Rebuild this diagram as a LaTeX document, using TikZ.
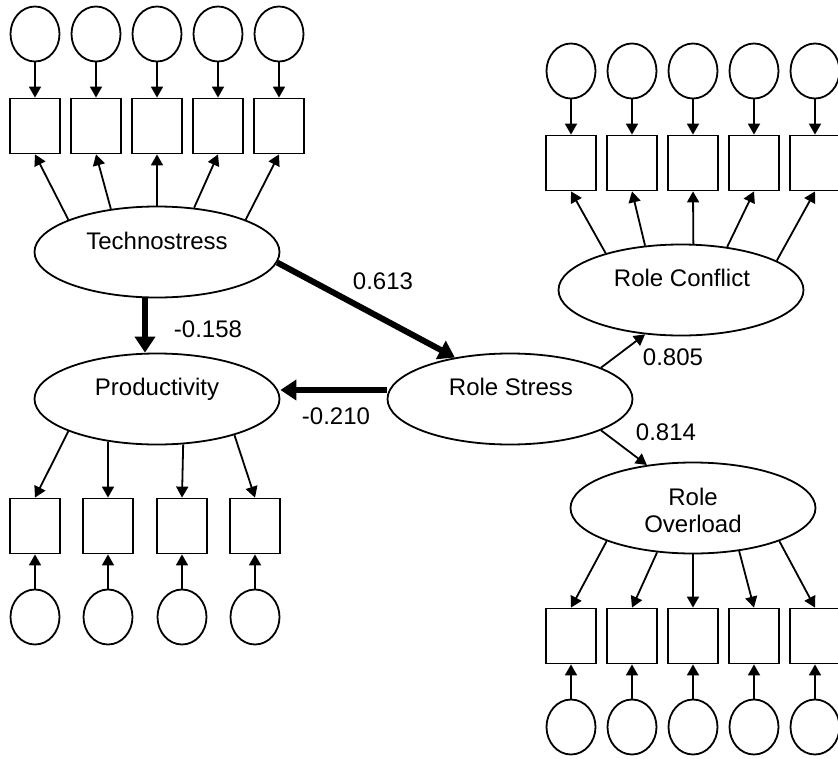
\documentclass[tikz,border=0pt]{standalone}
\usepackage{fontspec}
\setmainfont{Liberation Sans}
\usetikzlibrary{shapes.geometric,arrows.meta,calc}
\begin{document}
\begin{tikzpicture}[x=1pt,y=-1pt,
  every node/.style={font=\fontsize{24}{27}\selectfont},
  latent/.style={draw,ellipse,line width=1.8pt,minimum width=245pt,minimum height=91pt,inner sep=0pt},
  errterm/.style={draw,ellipse,line width=1.8pt,minimum width=49pt,minimum height=55pt,inner sep=0pt},
  indicator/.style={draw,rectangle,line width=1.8pt,minimum width=50pt,minimum height=55pt,inner sep=0pt},
  load/.style={line width=1.8pt,-{Triangle[length=11pt,width=12pt]}},
  effect/.style={line width=6pt,-{Triangle[length=16pt,width=20pt]}},
  lbl/.style={inner sep=0pt,anchor=base}
]
\useasboundingbox (0,0) rectangle (838,758);

% latent constructs
\node[latent] (ts) at (157,252) {};
\node[lbl] (tsT) at (157,249) {Technostress};
\node[latent] (pr) at (157,399) {};
\node[lbl] (prT) at (157,395) {Productivity};
\node[latent] (rs) at (510,399) {};
\node[lbl] (rsT) at (511,395) {Role Stress};
\node[latent] (rc) at (681,290) {};
\node[lbl] (rcT) at (682,286) {Role Conflict};
\node[latent] (ro) at (693,508) {};
\node[lbl] (roT1) at (693,505) {Role};
\node[lbl] (roT2) at (693,532) {Overload};

% Technostress indicators
\foreach \i/\x/\a in {1/35/160,2/96/137,3/157/90,4/218/50,5/279/20}{
  \node[errterm] (tse\i) at (\x,34) {};
  \node[indicator] (tsi\i) at (\x,126) {};
  \draw[load] (tse\i.south) -- (tsi\i.north);
  \draw[load] (ts.\a) -- (tsi\i.south);
}

% Role Conflict indicators
\foreach \i/\x/\a in {1/571/154,2/632/129,3/693/75,4/754/43,5/815/17}{
  \node[errterm] (rce\i) at (\x,71) {};
  \node[indicator] (rci\i) at (\x,163) {};
  \draw[load] (rce\i.south) -- (rci\i.north);
  \draw[load] (rc.\a) -- (rci\i.south);
}

% Productivity indicators
\foreach \i/\x/\a in {1/35/200,2/108/221,3/182/300,4/255/335}{
  \node[indicator] (pri\i) at (\x,526) {};
  \node[errterm] (pre\i) at (\x,617) {};
  \draw[load] (pre\i.north) -- (pri\i.south);
  \draw[load] (pr.\a) -- (pri\i.north);
}

% Role Overload indicators
\foreach \i/\x/\a in {1/571/201,2/632/231,3/693/270,4/754/317,5/815/339}{
  \node[indicator] (roi\i) at (\x,636) {};
  \node[errterm] (roe\i) at (\x,727) {};
  \draw[load] (roe\i.north) -- (roi\i.south);
  \draw[load] (ro.\a) -- (roi\i.north);
}

% structural paths
\draw[effect] ([xshift=-12pt]ts.south) -- ([xshift=-12pt]pr.north);
\draw[effect] (ts.355) -- (rs.143);
\draw[effect] ([yshift=9pt]rs.west) -- ([yshift=9pt]pr.east);
\draw[load] (rs.19) -- (rc.231);
\draw[load] (rs.341) -- (ro.137);

% path coefficients
\node[lbl] (c613) at (383,289) {0.613};
\node[lbl] (c158) at (208,337) {-0.158};
\node[lbl] (c210) at (336,424) {-0.210};
\node[lbl] (c805) at (673,365) {0.805};
\node[lbl] (c814) at (666,440) {0.814};
\end{tikzpicture}
\end{document}
